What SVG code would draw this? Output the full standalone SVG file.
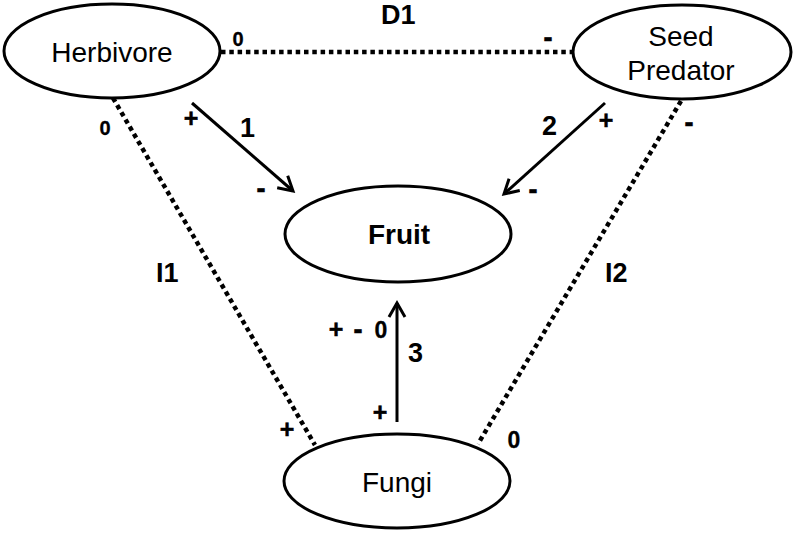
<svg xmlns="http://www.w3.org/2000/svg" width="794" height="533" viewBox="0 0 794 533">
<defs>
<style>
.node{fill:#fff;stroke:#000;stroke-width:3}
.nt{font-family:"Liberation Sans",Arial,sans-serif;font-size:28px;fill:#000;text-anchor:middle}
.bt{font-family:"Liberation Sans",Arial,sans-serif;font-size:27px;font-weight:bold;fill:#000}
.st{font-family:"Liberation Sans",Arial,sans-serif;font-size:21px;font-weight:bold;fill:#000;text-anchor:middle}
.mn{font-size:27px;stroke:#000;stroke-width:0.6}
.pl{font-size:25px;stroke:#000;stroke-width:0.5}
.zr{font-size:23px;stroke:#000;stroke-width:0.3}
.dot{fill:none;stroke:#000;stroke-width:4.5;stroke-dasharray:4.5 3.8}
.arr{fill:none;stroke:#000;stroke-width:3;marker-end:url(#ah)}
</style>
<marker id="ah" markerUnits="userSpaceOnUse" orient="auto" refX="0" refY="0" markerWidth="30" markerHeight="30" viewBox="-20 -15 30 30" overflow="visible">
<path d="M-14,-8 L0,0 L-14,8" fill="none" stroke="#000" stroke-width="3" stroke-linejoin="miter"/>
</marker>
</defs>
<g id="connectors">
<line class="dot" x1="221" y1="52" x2="572" y2="52"/>
<line class="dot" x1="113" y1="98" x2="315" y2="445"/>
<line class="dot" x1="681" y1="101" x2="478" y2="444"/>
<line class="arr" x1="192" y1="103" x2="293" y2="191"/>
<line class="arr" x1="605" y1="103" x2="504" y2="194"/>
<line class="arr" x1="397" y1="422" x2="397" y2="303"/>
</g>
<g id="herbivore">
<ellipse class="node" cx="112" cy="51" rx="108" ry="47"/>
<text class="nt" x="112" y="62">Herbivore</text>
</g>
<g id="seed-predator">
<ellipse class="node" cx="682" cy="52" rx="109" ry="47"/>
<text class="nt" x="681" y="46">Seed</text>
<text class="nt" x="681" y="80">Predator</text>
</g>
<g id="fruit">
<ellipse class="node" cx="398" cy="234" rx="113" ry="48"/>
<text class="nt" x="399" y="244" style="font-weight:bold">Fruit</text>
</g>
<g id="fungi">
<ellipse class="node" cx="397" cy="481" rx="113" ry="47"/>
<text class="nt" x="397" y="492">Fungi</text>
</g>
<g id="labels">
<text class="bt" x="381" y="24">D1</text>
<text class="bt" x="240" y="137">1</text>
<text class="bt" x="542" y="135">2</text>
<text class="bt" x="408" y="362">3</text>
<text class="bt" x="156" y="282">I1</text>
<text class="bt" x="605" y="282">I2</text>
<text class="st zr" x="238" y="46" style="font-size:20px">0</text>
<text class="st mn" x="548" y="47">-</text>
<text class="st zr" x="105" y="135" style="font-size:20px">0</text>
<text class="st pl" x="191" y="127">+</text>
<text class="st mn" x="261" y="198">-</text>
<text class="st pl" x="606" y="129">+</text>
<text class="st mn" x="689" y="132">-</text>
<text class="st mn" x="533" y="199">-</text>
<text class="st pl" x="336" y="338">+</text>
<text class="st mn" x="358" y="339">-</text>
<text class="st zr" x="381" y="338">0</text>
<text class="st pl" x="380" y="421">+</text>
<text class="st pl" x="287" y="438">+</text>
<text class="st zr" x="514" y="448">0</text>
</g>
</svg>
